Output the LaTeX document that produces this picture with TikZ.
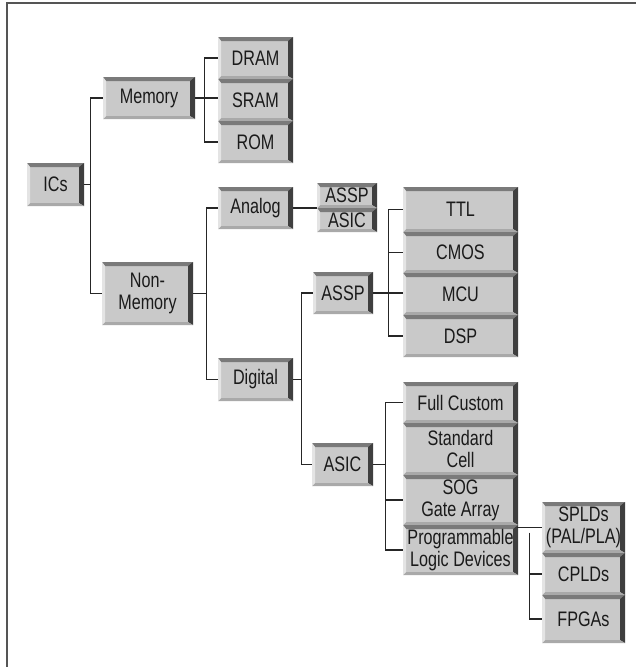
\documentclass[tikz,border=0pt]{standalone}
\usepackage{fontspec}
\setmainfont[FakeStretch=0.77]{Liberation Sans}
\definecolor{face}{HTML}{C9C9C9}
\definecolor{bevtop}{HTML}{7A7A7A}
\definecolor{bevright}{HTML}{3F3F3F}
\definecolor{bevleft}{HTML}{E4E4E4}
\definecolor{bevbot}{HTML}{A9A9A9}
\definecolor{txt}{HTML}{1A1A1A}
\definecolor{framec}{HTML}{555555}
\tikzset{
  bx/.style={fill=face, inner sep=0pt, align=center, text=txt,
    font=\fontsize{21}{22}\selectfont,
    path picture={
      \fill[bevtop] (path picture bounding box.north west) -- (path picture bounding box.north east)
        -- ([xshift=-5pt,yshift=-4pt]path picture bounding box.north east)
        -- ([xshift=3pt,yshift=-4pt]path picture bounding box.north west) -- cycle;
      \fill[bevright] (path picture bounding box.north east) -- (path picture bounding box.south east)
        -- ([xshift=-5pt,yshift=3pt]path picture bounding box.south east)
        -- ([xshift=-5pt,yshift=-4pt]path picture bounding box.north east) -- cycle;
      \fill[bevbot] (path picture bounding box.south west) -- (path picture bounding box.south east)
        -- ([xshift=-5pt,yshift=3pt]path picture bounding box.south east)
        -- ([xshift=3pt,yshift=3pt]path picture bounding box.south west) -- cycle;
      \fill[bevleft] (path picture bounding box.north west) -- (path picture bounding box.south west)
        -- ([xshift=3pt,yshift=3pt]path picture bounding box.south west)
        -- ([xshift=3pt,yshift=-4pt]path picture bounding box.north west) -- cycle;
    }},
  conn/.style={draw=black!85, line width=1.1pt},
  framel/.style={draw=framec, line width=1.6pt},
}
\newcommand\bxn[6]{\node[bx, minimum width={#4pt-#2pt}, minimum height={#5pt-#3pt}]
  (#1) at ({(#2+#4)/2},{(#3+#5)/2}) {#6};}
\begin{document}
\begin{tikzpicture}[x=1pt,y=-1pt]
\useasboundingbox (0,0) rectangle (636,667);
% frame
\draw[framel] (7,667) -- (7,3) -- (636,3);
% boxes
\bxn{ICs}{27}{163}{84}{206}{ICs}
\bxn{Memory}{103}{77}{195}{119}{Memory}
\bxn{DRAM}{218}{37}{293}{79}{DRAM}
\bxn{SRAM}{218}{79}{293}{121}{SRAM}
\bxn{ROM}{218}{121}{293}{163}{ROM}
\bxn{NonMem}{102}{262}{193}{325}{Non-\\Memory}
\bxn{Analog}{218}{187}{293}{229}{Analog}
\bxn{ASSPs}{317}{183}{377}{208}{ASSP}
\bxn{ASICs}{317}{208}{377}{232}{ASIC}
\bxn{Digital}{218}{358}{293}{401}{Digital}
\bxn{ASSP}{313}{272}{373}{314}{ASSP}
\bxn{TTL}{403}{187}{518}{232}{TTL}
\bxn{CMOS}{403}{232}{518}{273}{CMOS}
\bxn{MCU}{403}{273}{518}{315}{MCU}
\bxn{DSP}{403}{315}{518}{357}{DSP}
\bxn{ASIC}{312}{443}{373}{486}{ASIC}
\bxn{FullCustom}{403}{382}{518}{423}{Full Custom}
\bxn{StdCell}{403}{423}{518}{475}{Standard\\Cell}
\bxn{SOG}{403}{475}{518}{525}{SOG\\Gate Array}
\bxn{PLD}{403}{525}{518}{575}{Programmable\\Logic Devices}
\bxn{SPLD}{542}{502}{625}{553}{SPLDs\\(PAL/PLA)}
\bxn{CPLD}{542}{553}{625}{595}{CPLDs}
\bxn{FPGA}{542}{595}{625}{643}{FPGAs}
% connectors
\draw[conn] (ICs.east) -- ++(7,0);
\draw[conn] (Memory.west) -- ++(-12,0) |- (NonMem.west);
\draw[conn] (Memory.east) -- (Memory.east -| SRAM.west);
\draw[conn] (DRAM.west) -- ++(-13,0) |- (ROM.west);
\draw[conn] (NonMem.east) -- ++(14,0);
\draw[conn] (Analog.west) -- ++(-11,0) |- (Digital.west);
\draw[conn] (Analog.east) -- (Analog.east -| ASSPs.west);
\draw[conn] (Digital.east) -- ++(9,0);
\draw[conn] (ASSP.west) -- ++(-11,0) |- (ASIC.west);
\draw[conn] (ASSP.east) -- (ASSP.east -| MCU.west);
\draw[conn] (TTL.west) -- ++(-14,0) |- (DSP.west);
\draw[conn] (CMOS.west) -- ++(-14,0);
\draw[conn] (ASIC.east) -- ++(13,0);
\draw[conn] (FullCustom.west) -- ++(-17,0) |- (PLD.west);
\draw[conn] (SOG.west) -- ++(-17,0);
\draw[conn] (SPLD.west) -- ++(-25,0);
\draw[conn] ([yshift=-5pt]SPLD.west) ++(-12,0) |- (FPGA.west);
\draw[conn] (CPLD.west) -- ++(-12,0);
\end{tikzpicture}
\end{document}
